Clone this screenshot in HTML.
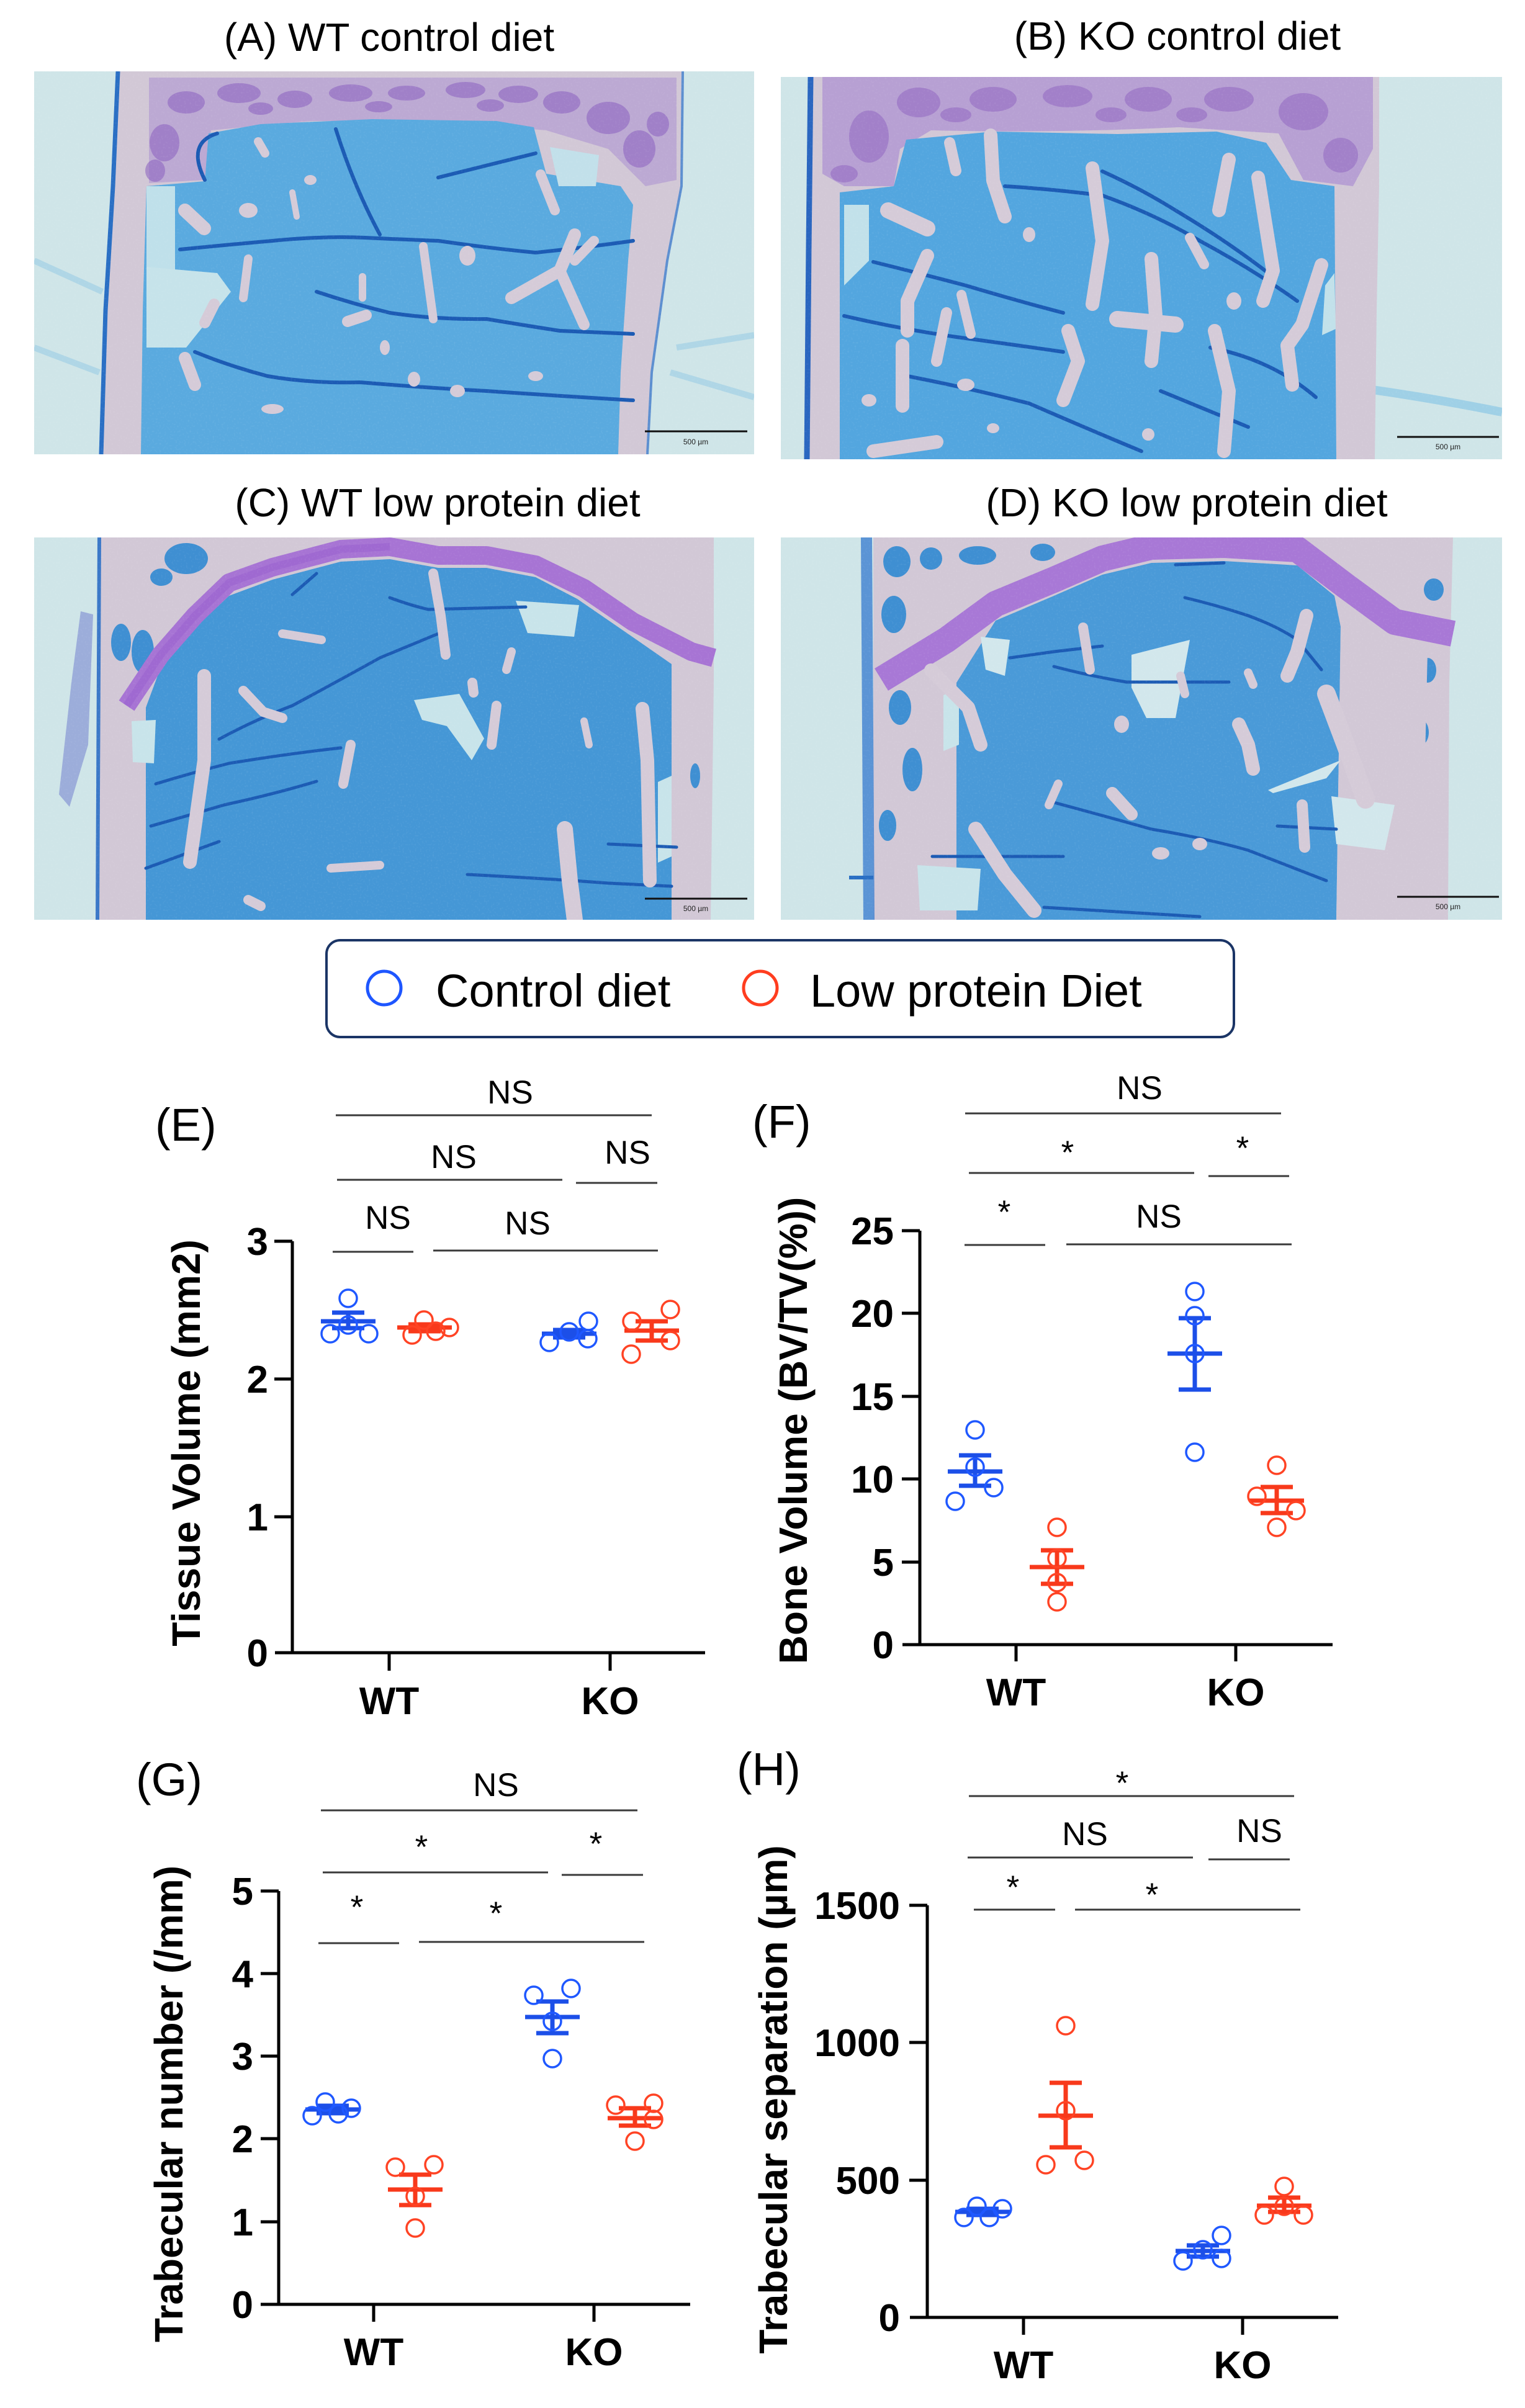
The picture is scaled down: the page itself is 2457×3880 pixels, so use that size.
<!DOCTYPE html>
<html><head><meta charset="utf-8"><style>
html,body{margin:0;padding:0;background:#fff;}
svg{display:block;}
text{font-family:"Liberation Sans",Arial,sans-serif;}
</style></head><body>
<svg width="2457" height="3880" viewBox="0 0 2457 3880" xmlns="http://www.w3.org/2000/svg">
<defs>
<clipPath id="cA"><rect x="55" y="115" width="1160" height="617"/></clipPath>
<clipPath id="cB"><rect x="1258" y="124" width="1162" height="616"/></clipPath>
<clipPath id="cC"><rect x="55" y="866" width="1160" height="616"/></clipPath>
<clipPath id="cD"><rect x="1258" y="866" width="1162" height="616"/></clipPath>
<filter id="speck" x="0" y="0" width="100%" height="100%">
<feTurbulence type="fractalNoise" baseFrequency="0.35" numOctaves="1" seed="3" result="n"/>
<feColorMatrix in="n" type="matrix" values="0 0 0 0 1  0 0 0 0 1  0 0 0 0 1  0 0 0 1.4 -0.75"/>
</filter>
</defs>
<rect width="2457" height="3880" fill="#fff"/>

<!-- Titles -->
<g font-size="64" text-anchor="middle" fill="#000">
<text x="627" y="82">(A) WT control diet</text>
<text x="1897" y="80">(B) KO control diet</text>
<text x="705" y="832">(C) WT low protein diet</text>
<text x="1912" y="832">(D) KO low protein diet</text>
</g>

<!-- ============ Panel A ============ -->
<g clip-path="url(#cA)">
<rect x="55" y="115" width="1160" height="617" fill="#cfe5e8"/>
<path d="M55,420 L165,470 M55,560 L160,600 M1090,560 L1215,540 M1080,600 L1215,640" stroke="#a6d2e5" stroke-width="10" fill="none" opacity=".8"/>
<path d="M190,115 L1100,115 L1098,300 L1075,420 L1050,600 L1043,732 L163,732 L170,500 L182,300 Z" fill="#d2c8d6"/>
<path d="M190,115 L182,300 L170,500 L163,732" stroke="#2a6fc4" stroke-width="7" fill="none"/>
<path d="M1100,115 L1098,300 L1075,420 L1050,600 L1043,732" stroke="#5d8fd0" stroke-width="4" fill="none"/>
<!-- purple growth plate (mottled) -->
<path d="M240,125 L1090,125 L1090,290 L1040,300 L980,240 L880,210 L700,195 L500,195 L340,210 L330,290 L240,295 Z" fill="#b9a3d2" opacity=".85"/>
<g fill="#8a5fc0" opacity=".55">
<ellipse cx="300" cy="165" rx="30" ry="18"/><ellipse cx="385" cy="150" rx="35" ry="16"/>
<ellipse cx="475" cy="160" rx="28" ry="14"/><ellipse cx="565" cy="150" rx="35" ry="14"/>
<ellipse cx="655" cy="150" rx="30" ry="12"/><ellipse cx="750" cy="145" rx="32" ry="13"/>
<ellipse cx="835" cy="152" rx="32" ry="14"/><ellipse cx="905" cy="165" rx="30" ry="18"/>
<ellipse cx="980" cy="190" rx="35" ry="26"/><ellipse cx="1030" cy="240" rx="26" ry="30"/>
<ellipse cx="265" cy="230" rx="24" ry="30"/><ellipse cx="250" cy="275" rx="16" ry="18"/>
<ellipse cx="420" cy="175" rx="20" ry="10"/><ellipse cx="610" cy="172" rx="22" ry="9"/>
<ellipse cx="790" cy="170" rx="22" ry="10"/><ellipse cx="1060" cy="200" rx="18" ry="20"/>
</g>
<!-- marrow -->
<path d="M236,300 L330,292 L336,215 L420,200 L600,192 L800,195 L860,205 L880,280 L1000,300 L1020,330 L1012,420 L1000,600 L996,732 L227,732 L230,500 Z" fill="#5aaadf"/>
<path d="M236,300 L282,300 L282,436 L236,436 Z" fill="#bfe0ea"/>
<path d="M236,430 L350,440 L372,470 L300,560 L236,560 Z" fill="#c6e3ea"/>
<path d="M886,237 L965,250 L960,300 L900,300 Z" fill="#c2e0ea"/>
<g stroke="#1c5bb4" stroke-width="6" fill="none" stroke-linecap="round">
<path d="M541,208 Q570,300 612,378"/>
<path d="M290,402 Q360,395 439,388 Q520,380 588,383 Q650,386 706,388 Q790,400 863,407 Q950,398 1020,388"/>
<path d="M510,470 Q570,490 628,504 Q700,515 784,514 Q850,525 902,533 L1020,538"/>
<path d="M314,567 Q370,590 431,606 Q500,618 580,616 Q690,625 784,630 Q900,638 1020,645"/>
<path d="M706,286 L863,247"/>
<path d="M330,290 Q300,230 350,215"/>
</g>
<g stroke="#d5cbd8" stroke-linecap="round" fill="none">
<path d="M926,378 L902,436 L824,480" stroke-width="20"/>
<path d="M902,436 L941,523" stroke-width="18"/>
<path d="M957,388 L926,420" stroke-width="16"/>
<path d="M682,397 L698,514" stroke-width="14"/>
<path d="M400,417 L392,480" stroke-width="14"/>
<path d="M584,446 L584,480" stroke-width="12"/>
<path d="M298,339 L329,368" stroke-width="22"/>
<path d="M416,228 L427,247" stroke-width="14"/>
<path d="M298,577 L314,620" stroke-width="20"/>
<path d="M871,281 L894,339" stroke-width="16"/>
<path d="M471,310 L478,349" stroke-width="10"/>
<path d="M560,518 L590,508" stroke-width="18"/>
<path d="M330,520 L345,490" stroke-width="18"/>
</g>
<g fill="#d5cbd8">
<ellipse cx="400" cy="339" rx="15" ry="12"/><ellipse cx="753" cy="412" rx="13" ry="16"/>
<ellipse cx="863" cy="606" rx="12" ry="8"/><ellipse cx="439" cy="659" rx="18" ry="8"/>
<ellipse cx="667" cy="611" rx="10" ry="12"/><ellipse cx="737" cy="630" rx="12" ry="10"/>
<ellipse cx="500" cy="290" rx="10" ry="8"/><ellipse cx="620" cy="560" rx="8" ry="12"/>
</g>
<rect x="55" y="115" width="1160" height="617" filter="url(#speck)" opacity=".18"/>
<line x1="1039" y1="695" x2="1204" y2="695" stroke="#111" stroke-width="3"/>
<text x="1121" y="716" font-size="12" text-anchor="middle" fill="#222">500 µm</text>
</g>

<!-- ============ Panel B ============ -->
<g clip-path="url(#cB)">
<rect x="1258" y="124" width="1162" height="616" fill="#cfe5e8"/>
<path d="M2190,625 Q2300,640 2420,664" stroke="#9fd0e6" stroke-width="14" fill="none"/>
<path d="M1305,124 L2222,124 L2222,300 L2218,500 L2215,740 L1300,740 L1302,400 Z" fill="#d2c8d6"/>
<path d="M1306,124 L1303,400 L1300,740" stroke="#2a66c0" stroke-width="9" fill="none"/>
<path d="M1325,124 L2212,124 L2212,240 L2180,300 L2100,290 L2060,215 L1900,205 Q1700,215 1500,210 L1450,240 L1440,300 L1360,300 L1325,280 Z" fill="#b7a0d3"/>
<g fill="#8e62c0" opacity=".5">
<ellipse cx="1400" cy="220" rx="32" ry="42"/><ellipse cx="1480" cy="165" rx="35" ry="24"/>
<ellipse cx="1600" cy="160" rx="38" ry="20"/><ellipse cx="1720" cy="155" rx="40" ry="18"/>
<ellipse cx="1850" cy="160" rx="38" ry="20"/><ellipse cx="1980" cy="160" rx="40" ry="20"/>
<ellipse cx="2100" cy="180" rx="40" ry="30"/><ellipse cx="2160" cy="250" rx="28" ry="28"/>
<ellipse cx="1360" cy="280" rx="22" ry="14"/><ellipse cx="1540" cy="185" rx="25" ry="12"/>
<ellipse cx="1790" cy="185" rx="25" ry="12"/><ellipse cx="1920" cy="185" rx="25" ry="12"/>
</g>
<path d="M1353,310 L1440,300 L1460,225 L1600,212 L1800,216 L1960,212 L2040,230 L2080,290 L2150,300 L2153,740 L1353,740 Z" fill="#53a6df"/>
<path d="M1360,330 L1400,330 L1400,420 L1360,460 Z" fill="#c2e1ea"/>
<path d="M2135,460 L2150,440 L2152,530 L2130,540 Z" fill="#c2e1ea"/>
<g stroke="#1c5bb4" stroke-width="6" fill="none" stroke-linecap="round">
<path d="M1407,422 Q1480,440 1556,460 Q1640,485 1713,504"/>
<path d="M1619,300 Q1700,305 1776,315 Q1860,345 1933,388 Q2020,435 2090,485"/>
<path d="M1776,276 Q1840,305 1894,339 Q1980,390 2051,446"/>
<path d="M1462,606 Q1560,625 1658,650 Q1750,690 1839,727"/>
<path d="M1360,509 Q1450,530 1541,543 Q1630,555 1713,567"/>
<path d="M1870,630 L2011,688"/>
<path d="M1950,560 Q2050,580 2120,640"/>
</g>
<g stroke="#d5cbd8" stroke-linecap="round" stroke-linejoin="round" fill="none" stroke-width="22">
<path d="M1596,218 L1600,291 L1619,349"/>
<path d="M1760,271 L1776,388 L1760,490"/>
<path d="M1855,417 L1862,509 L1855,582"/>
<path d="M1800,514 L1894,523" stroke-width="26"/>
<path d="M1980,257 L1964,339"/>
<path d="M2027,286 L2051,436 L2035,485"/>
<path d="M1494,412 L1462,485 L1462,533"/>
<path d="M1454,557 L1454,654"/>
<path d="M1721,533 L1737,582 L1713,645"/>
<path d="M1957,533 L1980,630 L1972,727"/>
<path d="M2074,557 L2082,620"/>
<path d="M2129,427 L2098,523 L2074,557"/>
<path d="M1549,475 L1564,538" stroke-width="16"/>
<path d="M1525,504 L1509,582" stroke-width="18"/>
<path d="M1431,339 L1494,368" stroke-width="26"/>
<path d="M1407,727 L1509,712"/>
<path d="M1917,383 L1940,426" stroke-width="16"/>
<path d="M1530,230 L1540,275" stroke-width="18"/>
</g>
<g fill="#d5cbd8">
<ellipse cx="1658" cy="378" rx="10" ry="12"/><ellipse cx="1988" cy="485" rx="12" ry="14"/>
<ellipse cx="1400" cy="645" rx="12" ry="10"/><ellipse cx="1556" cy="620" rx="14" ry="10"/>
<ellipse cx="1600" cy="690" rx="10" ry="8"/><ellipse cx="1850" cy="700" rx="10" ry="10"/>
</g>
<rect x="1258" y="124" width="1162" height="616" filter="url(#speck)" opacity=".18"/>
<line x1="2251" y1="704" x2="2415" y2="704" stroke="#111" stroke-width="3"/>
<text x="2333" y="724" font-size="12" text-anchor="middle" fill="#222">500 µm</text>
</g>

<!-- ============ Panel C ============ -->
<g clip-path="url(#cC)">
<rect x="55" y="866" width="1160" height="616" fill="#cfe5e8"/>
<path d="M130,985 L150,990 L142,1200 L112,1300 L95,1280 L115,1100 Z" fill="#8f9fd6" opacity=".8"/>
<path d="M157,866 L1150,866 L1150,1100 L1145,1482 L157,1482 Z" fill="#d2c8d6"/>
<path d="M160,866 L157,1482" stroke="#3b78c8" stroke-width="6" fill="none"/>
<g fill="#3f8fd2">
<ellipse cx="195" cy="1035" rx="16" ry="30"/><ellipse cx="230" cy="1050" rx="18" ry="35"/>
<ellipse cx="300" cy="900" rx="35" ry="25"/><ellipse cx="260" cy="930" rx="18" ry="14"/>
<ellipse cx="1030" cy="900" rx="25" ry="20"/><ellipse cx="1100" cy="1000" rx="18" ry="25"/>
<ellipse cx="1120" cy="1250" rx="8" ry="20"/>
</g>
<path d="M235,1140 L259,1075 L314,1012 L369,960 L439,934 L549,905 L628,901 L706,915 L784,915 L863,930 L930,965 L1010,1020 L1082,1070 L1082,1482 L235,1482 Z" fill="#4597d6"/>
<path d="M940,866 L1150,866 L1150,1010 L1100,1030 L1020,985 L960,930 Z" fill="#d2c8d6"/>
<path d="M204,1137 L259,1055 L314,992 L369,939 L439,914 L549,885 L628,881 L706,895 L784,895 L863,910 L941,948 L1020,1002 L1114,1050 L1150,1060" stroke="#a774d4" stroke-width="30" fill="none" stroke-linejoin="round"/>
<path d="M204,1137 L259,1055 L314,992 L369,939 L439,914 L549,885 L628,881" stroke="#9a62cf" stroke-width="12" fill="none" opacity=".6"/>
<path d="M831,968 L933,975 L925,1026 L850,1020 Z" fill="#c8e4ea"/>
<path d="M667,1128 L740,1118 L780,1190 L760,1225 L720,1170 L680,1160 Z" fill="#c8e4ea"/>
<path d="M212,1162 L251,1160 L248,1230 L214,1228 Z" fill="#c8e4ea"/>
<path d="M1060,1260 L1082,1250 L1082,1380 L1060,1390 Z" fill="#c8e4ea"/>
<g stroke="#1c5bb4" stroke-width="5" fill="none" stroke-linecap="round">
<path d="M353,1191 Q410,1160 471,1137 Q540,1100 612,1060 L706,1021"/>
<path d="M251,1263 Q310,1245 369,1230 Q460,1215 549,1205"/>
<path d="M243,1331 Q300,1315 361,1297 Q440,1280 510,1259"/>
<path d="M235,1399 L353,1356"/>
<path d="M753,1409 Q870,1415 980,1423 L1082,1428"/>
<path d="M980,1360 L1090,1365"/>
<path d="M628,963 Q660,975 690,982 L847,978"/>
<path d="M471,958 L510,924"/>
</g>
<g stroke="#d5cbd8" stroke-linecap="round" stroke-linejoin="round" fill="none">
<path d="M329,1089 L329,1225 L306,1389" stroke-width="22"/>
<path d="M698,924 L710,992 L718,1055" stroke-width="16"/>
<path d="M1035,1142 L1043,1225 L1047,1419" stroke-width="22"/>
<path d="M910,1336 L918,1419 L926,1482" stroke-width="26"/>
<path d="M800,1137 L792,1200" stroke-width="16"/>
<path d="M565,1200 L553,1263" stroke-width="16"/>
<path d="M392,1113 L424,1147 L455,1157" stroke-width="16"/>
<path d="M455,1021 L518,1031" stroke-width="14"/>
<path d="M824,1050 L816,1079" stroke-width="14"/>
<path d="M941,1162 L949,1200" stroke-width="12"/>
<path d="M533,1399 L612,1394" stroke-width="14"/>
<path d="M761,1100 L763,1116" stroke-width="16"/>
<path d="M400,1450 L420,1460" stroke-width="16"/>
</g>
<rect x="55" y="866" width="1160" height="616" filter="url(#speck)" opacity=".18"/>
<line x1="1039" y1="1448" x2="1204" y2="1448" stroke="#111" stroke-width="3"/>
<text x="1121" y="1468" font-size="12" text-anchor="middle" fill="#222">500 µm</text>
</g>

<!-- ============ Panel D ============ -->
<g clip-path="url(#cD)">
<rect x="1258" y="866" width="1162" height="616" fill="#cfe5e8"/>
<path d="M1407,866 L2341,866 L2335,1100 L2333,1482 L1407,1482 Z" fill="#d2c8d6"/>
<path d="M1396,866 L1400,1482" stroke="#3d7fcf" stroke-width="18" fill="none" opacity=".8"/>
<path d="M1368,1414 L1407,1414" stroke="#2a6fc4" stroke-width="6"/>
<g fill="#3f8fd2">
<ellipse cx="1445" cy="905" rx="22" ry="25"/><ellipse cx="1440" cy="990" rx="20" ry="30"/>
<ellipse cx="1500" cy="900" rx="18" ry="18"/><ellipse cx="1575" cy="895" rx="30" ry="15"/>
<ellipse cx="1450" cy="1140" rx="18" ry="28"/><ellipse cx="1470" cy="1240" rx="16" ry="35"/>
<ellipse cx="1430" cy="1330" rx="14" ry="25"/><ellipse cx="1680" cy="890" rx="20" ry="14"/>
<ellipse cx="2310" cy="950" rx="16" ry="18"/><ellipse cx="2300" cy="1080" rx="14" ry="20"/>
<ellipse cx="2290" cy="1180" rx="12" ry="20"/>
</g>
<path d="M1541,1100 L1604,1000 L1698,960 L1776,926 L1855,907 L1972,904 L2090,911 L2150,960 L2160,1010 L2153,1482 L1541,1482 Z" fill="#4a9ad8"/>
<path d="M2160,1010 L2240,1030 L2300,1050 L2290,1482 L2153,1482 Z" fill="#d2c8d6"/>
<path d="M1420,1095 L1525,1031 L1604,973 L1698,934 L1776,900 L1855,881 L1972,878 L2090,885 L2168,944 L2247,1002 L2341,1021" stroke="#a878d6" stroke-width="42" fill="none" stroke-linejoin="round"/>
<path d="M1823,1055 L1917,1031 L1894,1157 L1847,1157 L1823,1108 Z" fill="#d2e7ec"/>
<path d="M2043,1273 L2160,1225 L2137,1254 L2051,1278 Z" fill="#d2e7ec"/>
<path d="M2145,1283 L2247,1297 L2231,1370 L2153,1360 Z" fill="#d2e7ec"/>
<path d="M1580,1026 L1627,1031 L1619,1089 L1588,1079 Z" fill="#d2e7ec"/>
<path d="M1478,1394 L1580,1400 L1575,1467 L1482,1467 Z" fill="#c8e4ea"/>
<path d="M1520,1120 L1545,1110 L1545,1200 L1520,1210 Z" fill="#c8e4ea"/>
<g stroke="#1c5bb4" stroke-width="5" fill="none" stroke-linecap="round">
<path d="M1627,1060 L1698,1050 L1776,1041"/>
<path d="M1698,1074 Q1760,1090 1815,1099 L1980,1099"/>
<path d="M1909,963 Q1960,975 2011,992 Q2060,1010 2090,1031 L2129,1079"/>
<path d="M1698,1293 Q1780,1315 1855,1336 Q1940,1350 2011,1370 L2137,1419"/>
<path d="M1502,1380 L1713,1380"/>
<path d="M1682,1462 L1933,1477"/>
<path d="M1894,910 L1972,907"/>
<path d="M2058,1331 L2153,1336"/>
</g>
<g stroke="#d5cbd8" stroke-linecap="round" stroke-linejoin="round" fill="none">
<path d="M2105,992 L2090,1050 L2074,1089" stroke-width="22"/>
<path d="M2137,1118 L2168,1200 L2200,1288" stroke-width="30"/>
<path d="M1572,1336 L1619,1409 L1666,1467" stroke-width="24"/>
<path d="M1745,1011 L1756,1079" stroke-width="16"/>
<path d="M1996,1167 L2011,1200 L2019,1239" stroke-width="22"/>
<path d="M1792,1278 L1823,1312" stroke-width="20"/>
<path d="M2098,1297 L2102,1365" stroke-width="18"/>
<path d="M1902,1089 L1909,1118" stroke-width="14"/>
<path d="M1705,1263 L1690,1297" stroke-width="14"/>
<path d="M2011,1084 L2019,1103" stroke-width="14"/>
<path d="M1500,1080 L1560,1140 L1580,1200" stroke-width="22"/>
</g>
<g fill="#d5cbd8">
<ellipse cx="1870" cy="1375" rx="14" ry="10"/><ellipse cx="1807" cy="1167" rx="12" ry="14"/>
<ellipse cx="1933" cy="1360" rx="12" ry="10"/>
</g>
<rect x="1258" y="866" width="1162" height="616" filter="url(#speck)" opacity=".18"/>
<line x1="2251" y1="1445" x2="2415" y2="1445" stroke="#111" stroke-width="3"/>
<text x="2333" y="1465" font-size="12" text-anchor="middle" fill="#222">500 µm</text>
</g>

<!-- ============ Legend ============ -->
<rect x="526" y="1515" width="1462" height="156" rx="22" ry="22" fill="#fff" stroke="#1b3566" stroke-width="4"/>
<circle cx="619" cy="1592" r="27" fill="none" stroke="#1e56ff" stroke-width="5"/>
<text x="702" y="1622" font-size="74" fill="#000">Control diet</text>
<circle cx="1225" cy="1592" r="27" fill="none" stroke="#ff3d1f" stroke-width="5"/>
<text x="1305" y="1622" font-size="74" fill="#000">Low protein Diet</text>

<!-- ============ Panel labels ============ -->
<g font-size="74" fill="#000">
<text x="250" y="1838">(E)</text>
<text x="1212" y="1833">(F)</text>
<text x="219" y="2893">(G)</text>
<text x="1187" y="2876">(H)</text>
</g>

<!-- ============ Axes ============ -->
<g stroke="#000" stroke-width="5" fill="none">
<path d="M471,2000 L471,2663 M443,2663 L1136,2663"/>
<path d="M442,2000 L471,2000 M442,2222 L471,2222 M442,2444 L471,2444"/>
<path d="M627,2663 L627,2692 M983,2663 L983,2692"/>
<path d="M1482,1983 L1482,2650 M1454,2650 L2147,2650"/>
<path d="M1453,1983 L1482,1983 M1453,2116 L1482,2116 M1453,2250 L1482,2250 M1453,2383 L1482,2383 M1453,2517 L1482,2517"/>
<path d="M1637,2650 L1637,2677 M1991,2650 L1991,2677"/>
<path d="M449,3047 L449,3713 M420,3713 L1112,3713"/>
<path d="M420,3047 L449,3047 M420,3180 L449,3180 M420,3313 L449,3313 M420,3446 L449,3446 M420,3580 L449,3580"/>
<path d="M602,3713 L602,3741 M957,3713 L957,3741"/>
<path d="M1494,3070 L1494,3734 M1466,3734 L2156,3734"/>
<path d="M1465,3070 L1494,3070 M1465,3291 L1494,3291 M1465,3513 L1494,3513"/>
<path d="M1649,3734 L1649,3762 M2002,3734 L2002,3762"/>
</g>

<g font-size="62" font-weight="bold" text-anchor="end" fill="#000">
<text x="432" y="2022">3</text><text x="432" y="2244">2</text><text x="432" y="2466">1</text><text x="432" y="2685">0</text>
<text x="1440" y="2005">25</text><text x="1440" y="2138">20</text><text x="1440" y="2272">15</text><text x="1440" y="2405">10</text><text x="1440" y="2539">5</text><text x="1440" y="2672">0</text>
<text x="408" y="3069">5</text><text x="408" y="3202">4</text><text x="408" y="3335">3</text><text x="408" y="3468">2</text><text x="408" y="3602">1</text><text x="408" y="3735">0</text>
<text x="1450" y="3092">1500</text><text x="1450" y="3313">1000</text><text x="1450" y="3535">500</text><text x="1450" y="3756">0</text>
</g>
<g font-size="62" font-weight="bold" text-anchor="middle" fill="#000">
<text x="627" y="2762">WT</text><text x="983" y="2762">KO</text>
<text x="1637" y="2748">WT</text><text x="1991" y="2748">KO</text>
<text x="602" y="3811">WT</text><text x="957" y="3811">KO</text>
<text x="1649" y="3832">WT</text><text x="2002" y="3832">KO</text>
</g>
<g font-size="64" font-weight="bold" text-anchor="middle" fill="#000">
<text transform="translate(322,2325) rotate(-90)">Tissue Volume (mm2)</text>
<text transform="translate(1300,2305) rotate(-90)">Bone Volume (BV/TV(%))</text>
<text transform="translate(294,3390) rotate(-90)">Trabecular number (/mm)</text>
<text transform="translate(1268,3383) rotate(-90)">Trabecular separation (µm)</text>
</g>

<!-- ============ Significance bars ============ -->
<g stroke="#3a3a3a" stroke-width="3" fill="none">
<path d="M541,1797 L1050,1797 M543,1901 L906,1901 M928,1906 L1059,1906 M536,2017 L666,2017 M698,2015 L1060,2015"/>
<path d="M1555,1794 L2064,1794 M1561,1890 L1924,1890 M1947,1895 L2077,1895 M1554,2006 L1684,2006 M1718,2005 L2081,2005"/>
<path d="M517,2917 L1027,2917 M520,3017 L883,3017 M905,3021 L1036,3021 M513,3131 L643,3131 M675,3129 L1038,3129"/>
<path d="M1561,2894 L2085,2894 M1559,2993 L1922,2993 M1947,2996 L2078,2996 M1569,3077 L1700,3077 M1732,3077 L2095,3077"/>
</g>
<g font-size="53" text-anchor="middle" fill="#000">
<text x="822" y="1778">NS</text><text x="731" y="1882">NS</text><text x="1011" y="1875">NS</text><text x="625" y="1980">NS</text><text x="850" y="1989">NS</text>
<text x="1836" y="1771">NS</text><text x="1720" y="1875">*</text><text x="2002" y="1868">*</text><text x="1618" y="1971">*</text><text x="1867" y="1978">NS</text>
<text x="799" y="2894">NS</text><text x="679" y="2994">*</text><text x="960" y="2989">*</text><text x="575" y="3091">*</text><text x="799" y="3101">*</text>
<text x="1808" y="2891">*</text><text x="1748" y="2973">NS</text><text x="2029" y="2968">NS</text><text x="1632" y="3059">*</text><text x="1856" y="3071">*</text>
</g>

<!-- ============ Data: error bars ============ -->
<g stroke-width="7" fill="none" stroke-linecap="butt">
<g stroke="#1c4fe8">
<path d="M517,2129 L605,2129 M561,2115 L561,2140 M535,2115 L587,2115 M535,2140 L587,2140"/>
<path d="M873,2149 L961,2149 M917,2143 L917,2155 M891,2143 L943,2143 M891,2155 L943,2155"/>
</g>
<g stroke="#f8391b">
<path d="M640,2139 L728,2139 M684,2134 L684,2145 M658,2134 L710,2134 M658,2145 L710,2145"/>
<path d="M1006,2144 L1094,2144 M1050,2129 L1050,2160 M1024,2129 L1076,2129 M1024,2160 L1076,2160"/>
</g>
<g stroke="#1c4fe8">
<path d="M1527,2371 L1615,2371 M1571,2345 L1571,2394 M1545,2345 L1597,2345 M1545,2394 L1597,2394"/>
<path d="M1881,2181 L1969,2181 M1925,2124 L1925,2239 M1899,2124 L1951,2124 M1899,2239 L1951,2239"/>
</g>
<g stroke="#f8391b">
<path d="M1659,2525 L1747,2525 M1703,2498 L1703,2552 M1677,2498 L1729,2498 M1677,2552 L1729,2552"/>
<path d="M2013,2418 L2101,2418 M2057,2396 L2057,2438 M2031,2396 L2083,2396 M2031,2438 L2083,2438"/>
</g>
<g stroke="#1c4fe8">
<path d="M492,3399 L580,3399 M536,3393 L536,3405 M510,3393 L562,3393 M510,3405 L562,3405"/>
<path d="M846,3250 L934,3250 M890,3225 L890,3276 M864,3225 L916,3225 M864,3276 L916,3276"/>
</g>
<g stroke="#f8391b">
<path d="M625,3528 L713,3528 M669,3504 L669,3553 M643,3504 L695,3504 M643,3553 L695,3553"/>
<path d="M979,3413 L1067,3413 M1023,3397 L1023,3425 M997,3397 L1049,3397 M997,3425 L1049,3425"/>
</g>
<g stroke="#1c4fe8">
<path d="M1539,3564 L1627,3564 M1583,3559 L1583,3569 M1557,3559 L1609,3559 M1557,3569 L1609,3569"/>
<path d="M1894,3627 L1982,3627 M1938,3618 L1938,3636 M1912,3618 L1964,3618 M1912,3636 L1964,3636"/>
</g>
<g stroke="#f8391b">
<path d="M1673,3409 L1761,3409 M1717,3356 L1717,3460 M1691,3356 L1743,3356 M1691,3460 L1743,3460"/>
<path d="M2025,3554 L2113,3554 M2069,3541 L2069,3564 M2043,3541 L2095,3541 M2043,3564 L2095,3564"/>
</g>
</g>

<!-- ============ Data: points ============ -->
<g fill="none" stroke-width="3.5">
<g stroke="#1f58ff">
<circle cx="561" cy="2092" r="14"/><circle cx="532" cy="2149" r="14"/><circle cx="594" cy="2149" r="14"/><circle cx="561" cy="2135" r="14"/>
<circle cx="948" cy="2129" r="14"/><circle cx="885" cy="2163" r="14"/><circle cx="947" cy="2157" r="14"/><circle cx="917" cy="2146" r="14"/>
<circle cx="1571" cy="2304" r="14"/><circle cx="1539" cy="2419" r="14"/><circle cx="1601" cy="2397" r="14"/><circle cx="1571" cy="2364" r="14"/>
<circle cx="1925" cy="2081" r="14"/><circle cx="1925" cy="2120" r="14"/><circle cx="1925" cy="2181" r="14"/><circle cx="1925" cy="2340" r="14"/>
<circle cx="524" cy="3387" r="14"/><circle cx="503" cy="3409" r="14"/><circle cx="545" cy="3406" r="14"/><circle cx="566" cy="3397" r="14"/>
<circle cx="860" cy="3215" r="14"/><circle cx="920" cy="3204" r="14"/><circle cx="890" cy="3257" r="14"/><circle cx="890" cy="3317" r="14"/>
<circle cx="1553" cy="3573" r="14"/><circle cx="1574" cy="3555" r="14"/><circle cx="1594" cy="3573" r="14"/><circle cx="1615" cy="3559" r="14"/>
<circle cx="1968" cy="3602" r="14"/><circle cx="1906" cy="3643" r="14"/><circle cx="1968" cy="3639" r="14"/><circle cx="1938" cy="3625" r="14"/>
</g>
<g stroke="#ff4324">
<circle cx="683" cy="2127" r="14"/><circle cx="664" cy="2151" r="14"/><circle cx="702" cy="2145" r="14"/><circle cx="724" cy="2139" r="14"/>
<circle cx="1080" cy="2110" r="14"/><circle cx="1018" cy="2129" r="14"/><circle cx="1017" cy="2182" r="14"/><circle cx="1080" cy="2160" r="14"/>
<circle cx="1703" cy="2461" r="14"/><circle cx="1703" cy="2511" r="14"/><circle cx="1703" cy="2550" r="14"/><circle cx="1703" cy="2581" r="14"/>
<circle cx="2057" cy="2361" r="14"/><circle cx="2025" cy="2411" r="14"/><circle cx="2088" cy="2434" r="14"/><circle cx="2057" cy="2461" r="14"/>
<circle cx="637" cy="3492" r="14"/><circle cx="699" cy="3488" r="14"/><circle cx="669" cy="3539" r="14"/><circle cx="669" cy="3590" r="14"/>
<circle cx="992" cy="3392" r="14"/><circle cx="1053" cy="3389" r="14"/><circle cx="1053" cy="3415" r="14"/><circle cx="1023" cy="3450" r="14"/>
<circle cx="1717" cy="3264" r="14"/><circle cx="1717" cy="3401" r="14"/><circle cx="1685" cy="3488" r="14"/><circle cx="1747" cy="3481" r="14"/>
<circle cx="2069" cy="3523" r="14"/><circle cx="2037" cy="3569" r="14"/><circle cx="2100" cy="3569" r="14"/><circle cx="2069" cy="3555" r="14"/>
</g>
</g>
</svg>
</body></html>
